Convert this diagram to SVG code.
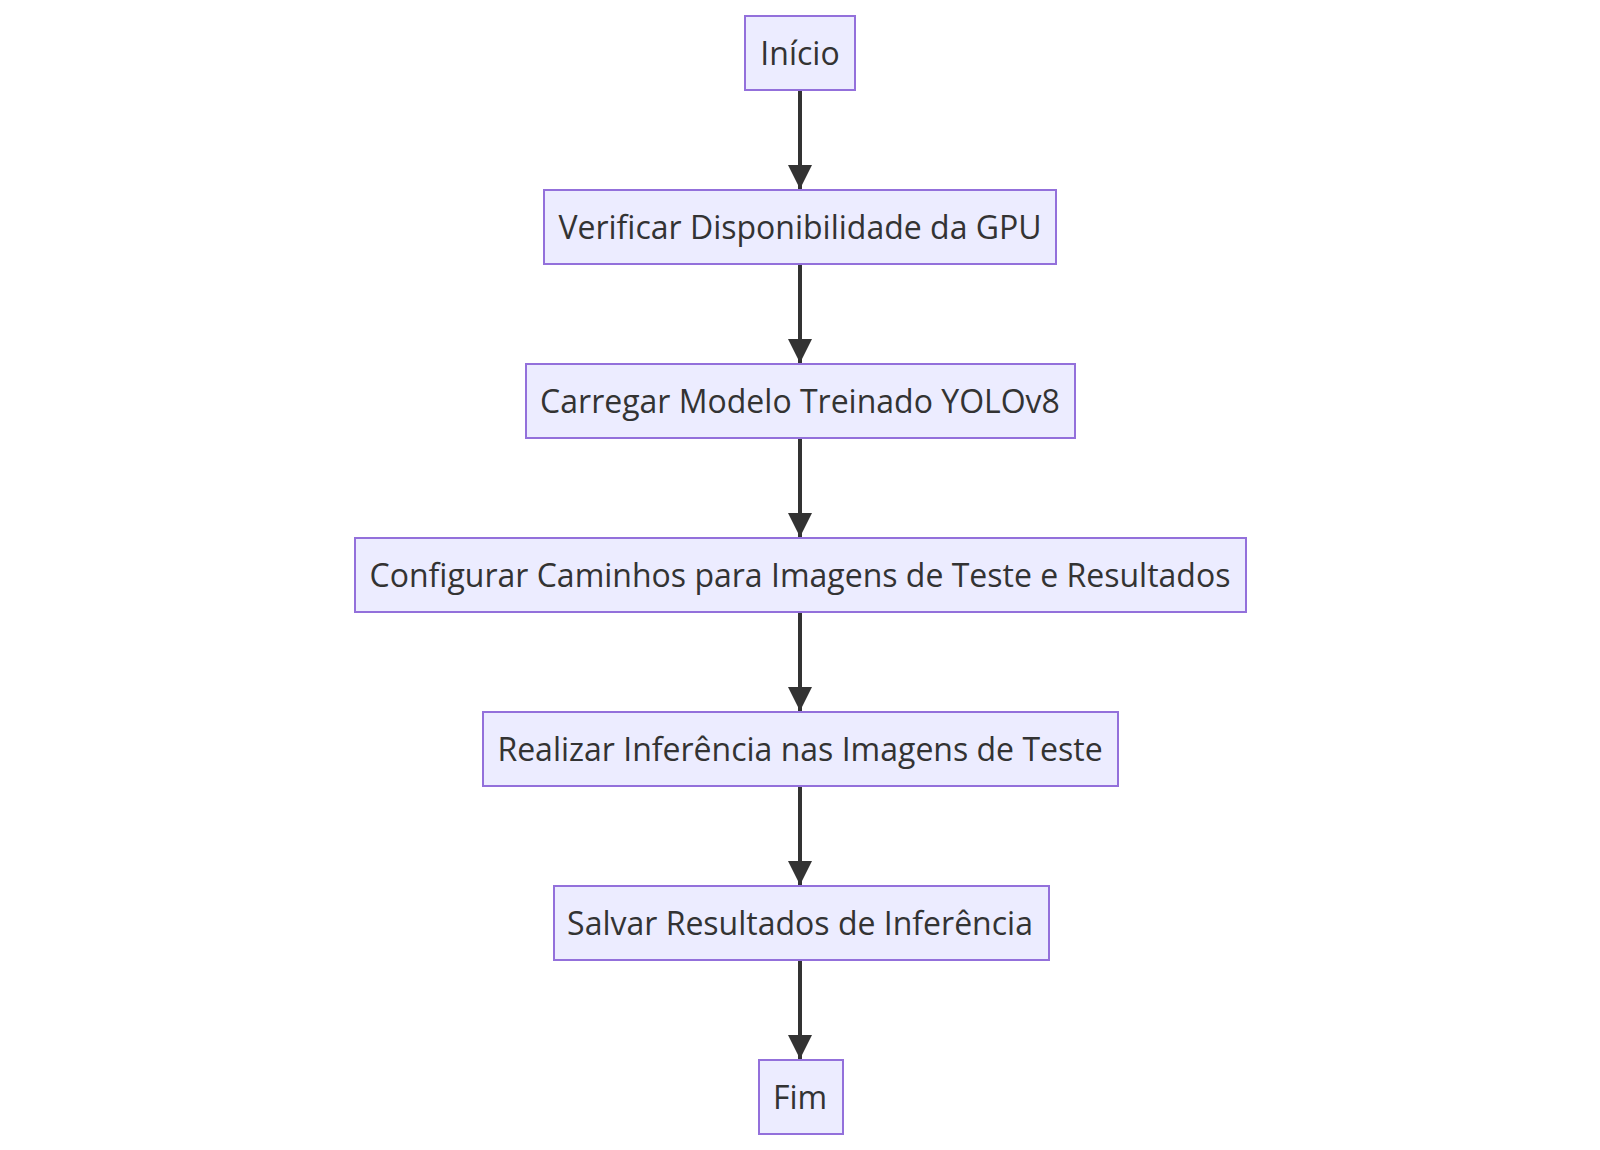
<svg xmlns="http://www.w3.org/2000/svg" width="1600" height="1150" viewBox="0 0 1600 1150">
<style>
.node rect{fill:#ECECFF;stroke:#9370DB;stroke-width:2}
.node text{font-family:"Open Sans","DejaVu Sans",sans-serif;font-size:32px;fill:#333333;text-anchor:middle;dominant-baseline:central}
.edge{stroke:#333333;stroke-width:4;fill:none}
</style>
<defs>
<marker id="arr" viewBox="0 0 10 10" refX="10" refY="5" markerUnits="userSpaceOnUse" markerWidth="24" markerHeight="24" orient="auto">
<path d="M0,0 L10,5 L0,10 z" fill="#333333"/>
</marker>
</defs>
<rect width="1600" height="1150" fill="#ffffff"/>
<g id="edges">
<line class="edge" x1="800" y1="90" x2="800" y2="189" marker-end="url(#arr)"/>
<line class="edge" x1="800" y1="264" x2="800" y2="363" marker-end="url(#arr)"/>
<line class="edge" x1="800" y1="438" x2="800" y2="537" marker-end="url(#arr)"/>
<line class="edge" x1="800" y1="612" x2="800" y2="711" marker-end="url(#arr)"/>
<line class="edge" x1="800" y1="786" x2="800" y2="885" marker-end="url(#arr)"/>
<line class="edge" x1="800" y1="960" x2="800" y2="1059" marker-end="url(#arr)"/>
</g>
<g id="n1" class="node"><rect x="745" y="16" width="110" height="74"/><text x="800" y="52">Início</text></g>
<g id="n2" class="node"><rect x="544" y="190" width="512" height="74"/><text x="800" y="226">Verificar Disponibilidade da GPU</text></g>
<g id="n3" class="node"><rect x="526" y="364" width="549" height="74"/><text x="800" y="400">Carregar Modelo Treinado YOLOv8</text></g>
<g id="n4" class="node"><rect x="355" y="538" width="891" height="74"/><text x="800" y="574">Configurar Caminhos para Imagens de Teste e Resultados</text></g>
<g id="n5" class="node"><rect x="483" y="712" width="635" height="74"/><text x="800" y="748">Realizar Inferência nas Imagens de Teste</text></g>
<g id="n6" class="node"><rect x="554" y="886" width="495" height="74"/><text x="800" y="922">Salvar Resultados de Inferência</text></g>
<g id="n7" class="node"><rect x="759" y="1060" width="84" height="74"/><text x="800" y="1096">Fim</text></g>
</svg>
